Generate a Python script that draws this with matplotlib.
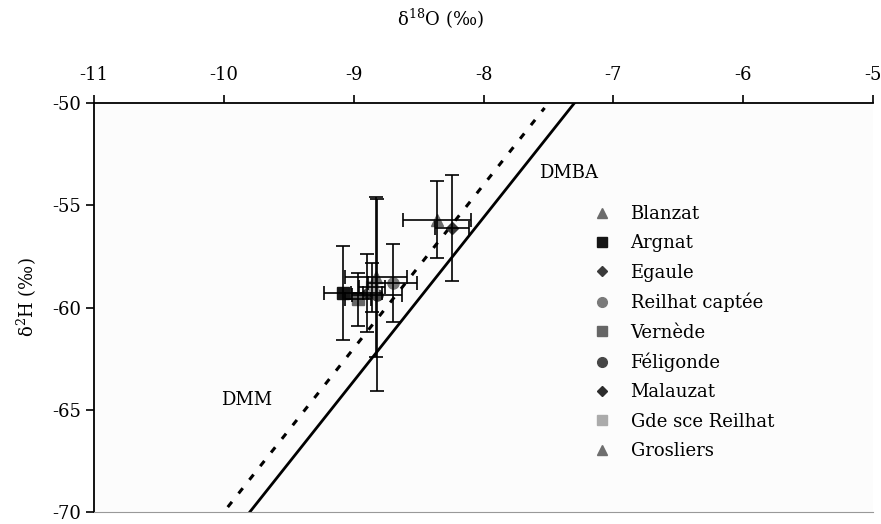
import matplotlib.pyplot as plt
from matplotlib.lines import Line2D
import numpy as np

# stations
names = ['Blanzat', 'Argnat', 'Egaule', 'Reilhat captée', 'Vernède',
         'Féligonde', 'Malauzat', 'Gde sce Reilhat', 'Grosliers']
d18O = [-8.36, -9.08, -8.24, -8.70, -8.97, -8.82, -8.90, -8.86, -8.83]
d2H = [-55.7, -59.3, -56.1, -58.8, -59.6, -59.4, -59.3, -59.0, -58.5]
err_x = [0.26, 0.15, 0.13, 0.19, 0.10, 0.19, 0.12, 0.10, 0.24]
err_y = [1.9, 2.3, 2.6, 1.9, 1.3, 4.7, 1.9, 1.2, 3.9]
markers = ['^', 's', 'D', 'o', 's', 'o', 'D', 's', '^']
colors = ['#6b6b6b', '#151515', '#3a3a3a', '#7a7a7a', '#666666',
          '#464646', '#2c2c2c', '#ababab', '#6e6e6e']

# droites meteoriques (pente 8)
dmba_x = [-9.8, -7.3]
dmba_d = 8.4
dmm_x = [-9.97, -7.53]
dmm_d = 10.0

plt.rcParams['font.family'] = ['DejaVu Serif']
plt.rcParams['axes.unicode_minus'] = False
plt.rcParams['mathtext.fontset'] = 'dejavuserif'

fs = 13

fig = plt.figure(figsize=(8.81, 5.24), dpi=100)
ax = fig.add_axes([0.1067, 0.0229, 0.8843, 0.7805])
ax.set_facecolor('#fcfcfc')

xx = np.array(dmba_x)
ax.plot(xx, 8 * xx + dmba_d, color='black', lw=2.0, zorder=2)
xx = np.array(dmm_x)
ax.plot(xx, 8 * xx + dmm_d, color='black', lw=2.2, ls=(0, (2.2, 3.5)), zorder=2)

for i in range(len(names)):
    ax.plot(d18O[i], d2H[i], marker=markers[i], color=colors[i], ms=8 if markers[i] != 'D' else 6.5,
            ls='none', zorder=3)
    ax.errorbar(d18O[i], d2H[i], xerr=err_x[i], yerr=err_y[i], fmt='none',
                ecolor='black', elinewidth=1.2, capsize=5, capthick=1.2, zorder=4)

ax.text(-7.57, -53.4, 'DMBA', fontsize=fs, va='center')
ax.text(-10.02, -64.5, 'DMM', fontsize=fs, va='center')

handles = [Line2D([], [], marker=markers[i], color=colors[i], ls='none',
                  ms=7 if markers[i] != 'D' else 5.5) for i in range(len(names))]
ax.legend(handles, names, loc='upper left', bbox_to_anchor=(0.64, 0.75), frameon=False,
          fontsize=fs, handlelength=1.0, handletextpad=1.1, labelspacing=0.62,
          borderaxespad=0, borderpad=0)

ax.set_xlim(-11, -5)
ax.set_ylim(-70, -50)
ax.set_xticks(range(-11, -4))
ax.set_yticks(range(-70, -49, 5))
ax.xaxis.tick_top()
ax.tick_params(axis='both', direction='out', length=6, width=1.2, labelsize=fs)
ax.tick_params(axis='x', pad=8)
ax.set_xlabel('δ$^{18}$O (‰)', fontsize=fs)
ax.xaxis.set_label_coords(0.445, 1.234)
ax.set_ylabel('δ$^{2}$H (‰)', fontsize=fs)
ax.yaxis.set_label_coords(-0.071, 0.526)
ax.spines['right'].set_visible(False)
ax.spines['bottom'].set_color('#999999')
ax.spines['top'].set_linewidth(1.3)
ax.spines['left'].set_linewidth(1.3)

plt.savefig('out.png', dpi=100)
